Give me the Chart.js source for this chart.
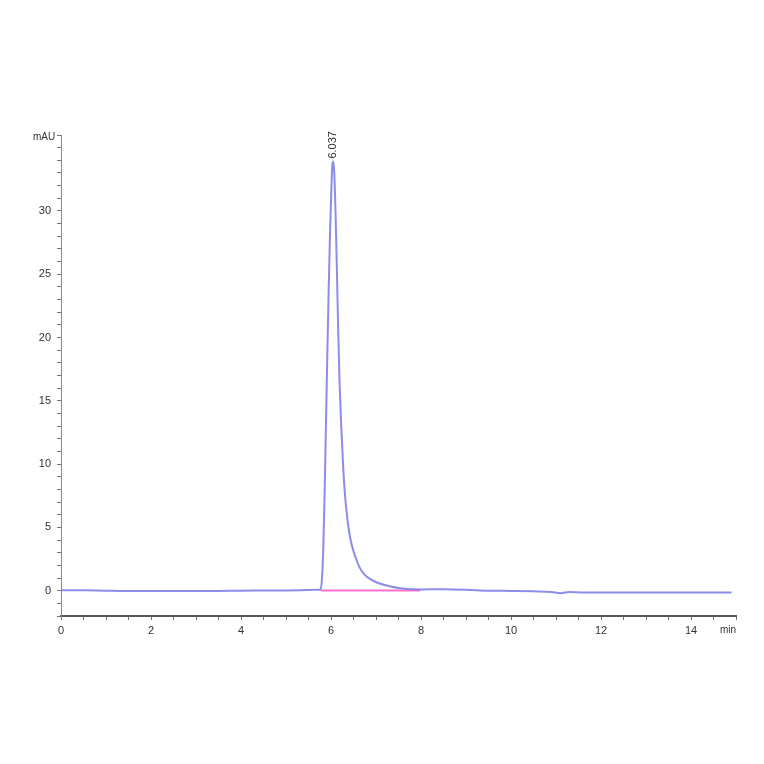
<!DOCTYPE html>
<html>
<head>
<meta charset="utf-8">
<title>Chromatogram</title>
<script src="https://cdn.jsdelivr.net/npm/chart.js@4/dist/chart.umd.min.js"></script>
<style>
    html, body { margin: 0; padding: 0; background: #fff; }
    #graph1 { display: block; }
</style>
</head>
<body>
<canvas id="graph1" width="764" height="764"></canvas>
<script>
// retention time (min)
const time_list = [0, 0.5, 1, 1.5, 2, 2.5, 3, 3.5, 4, 4.5, 5, 5.5, 5.7, 5.77,
    5.80, 5.83, 5.86, 5.89, 5.92, 5.95, 5.98, 6.01, 6.03, 6.045,
    6.07, 6.10, 6.13, 6.16, 6.19, 6.23, 6.27, 6.31, 6.36, 6.41, 6.47, 6.55,
    6.64, 6.75, 6.88, 7.02, 7.3, 7.53, 8, 8.5, 9, 9.5, 10, 10.5, 10.9, 11.1, 11.3,
    11.6, 12, 13, 14, 14.9];
// signal (mAU)
const mau_list = [0.03, 0.03, 0.0, -0.02, -0.02, -0.03, -0.03, -0.02, 0.0, 0.01, 0.02, 0.05, 0.08, 0.1,
    1.0, 3.5, 8, 13.5, 19, 24, 28.5, 32, 33.6, 33.9,
    33.2, 30, 25.5, 20.5, 16.5, 12.8, 9.8, 7.6, 5.8, 4.5, 3.5, 2.6,
    1.8, 1.25, 0.9, 0.65, 0.35, 0.2, 0.1, 0.12, 0.08, 0.0, -0.02, -0.05, -0.1, -0.2, -0.1,
    -0.15, -0.15, -0.15, -0.15, -0.15];

// integration baseline
const base_time = [5.77, 7.98];
const base_mau  = [0.02, 0.02];

// peak annotation
const peak_time  = [6.037];
const peak_mau   = [33.9];
const peak_label = ["6.037"];

const y_labels = [0, 5, 10, 15, 20, 25, 30];
const x_labels = [0, 2, 4, 6, 8, 10, 12, 14];

const FONT = "'Liberation Sans', Arial, sans-serif";

function to_points(xs, ys){
    let pts = [];
    for (let i = 0; i < xs.length; i++){
        pts.push({x: xs[i], y: ys[i]});
    }
    return pts;
}

// draws the unit labels and the peak time text
const textPlugin = {
    id: "texts",
    afterDatasetsDraw(chart){
        const ctx = chart.ctx;
        const xs = chart.scales.x;
        const ys = chart.scales.y;
        ctx.save();
        ctx.fillStyle = "#333";
        ctx.font = "10px " + FONT;
        ctx.textBaseline = "middle";
        ctx.textAlign = "left";
        ctx.fillText("mAU", 33, 137);
        ctx.textAlign = "center";
        ctx.fillText("min", 728, 630);

        ctx.font = "11px " + FONT;
        for (let i = 0; i < peak_time.length; i++){
            const px = xs.getPixelForValue(peak_time[i]);
            const py = ys.getPixelForValue(peak_mau[i]);
            ctx.save();
            ctx.translate(px, py - 3);
            ctx.rotate(-Math.PI / 2);
            ctx.textAlign = "left";
            ctx.textBaseline = "middle";
            ctx.fillText(peak_label[i], 0, 0);
            ctx.restore();
        }
        ctx.restore();
    }
};

const ctx = document.getElementById("graph1").getContext("2d");
const myChart = new Chart(ctx, {
    type: "scatter",
    data: {
        datasets: [
            {
                data: to_points(base_time, base_mau),
                showLine: true,
                borderColor: "#ff70d0",
                borderWidth: 2,
                pointRadius: 0,
                order: 1
            },
            {
                data: to_points(time_list, mau_list),
                showLine: true,
                borderColor: "rgba(120,120,232,0.85)",
                borderWidth: 2,
                pointRadius: 0,
                cubicInterpolationMode: "monotone",
                order: 0
            }
        ]
    },
    options: {
        responsive: false,
        animation: false,
        layout: {
            padding: {left: 0, right: 28, top: 135, bottom: 118}
        },
        plugins: {
            legend: {display: false},
            tooltip: {enabled: false}
        },
        scales: {
            x: {
                type: "linear",
                min: 0,
                max: 15,
                afterBuildTicks: (s) => {
                    let t = [];
                    for (let v = 0; v <= 15; v += 0.5) t.push({value: v});
                    s.ticks = t;
                },
                afterFit: (s) => { s.height = 30; },
                border: {color: "#555", width: 2},
                grid: {
                    drawOnChartArea: false,
                    drawTicks: true,
                    tickLength: 4,
                    color: "#777"
                },
                ticks: {
                    autoSkip: false,
                    maxRotation: 0,
                    color: "#333",
                    font: {family: FONT, size: 11},
                    padding: 4,
                    callback: (v) => x_labels.includes(v) ? String(v) : ""
                }
            },
            y: {
                min: -2,
                max: 36,
                afterBuildTicks: (s) => {
                    let t = [];
                    for (let v = -2; v <= 36; v += 1) t.push({value: v});
                    s.ticks = t;
                },
                afterFit: (s) => { s.width = 61; },
                border: {color: "#888", width: 1},
                grid: {
                    drawOnChartArea: false,
                    drawTicks: true,
                    tickLength: 4,
                    color: "#777"
                },
                ticks: {
                    autoSkip: false,
                    color: "#333",
                    font: {family: FONT, size: 11},
                    padding: 6,
                    callback: (v) => y_labels.includes(v) ? String(v) : ""
                }
            }
        }
    },
    plugins: [textPlugin]
});
</script>
</body>
</html>
